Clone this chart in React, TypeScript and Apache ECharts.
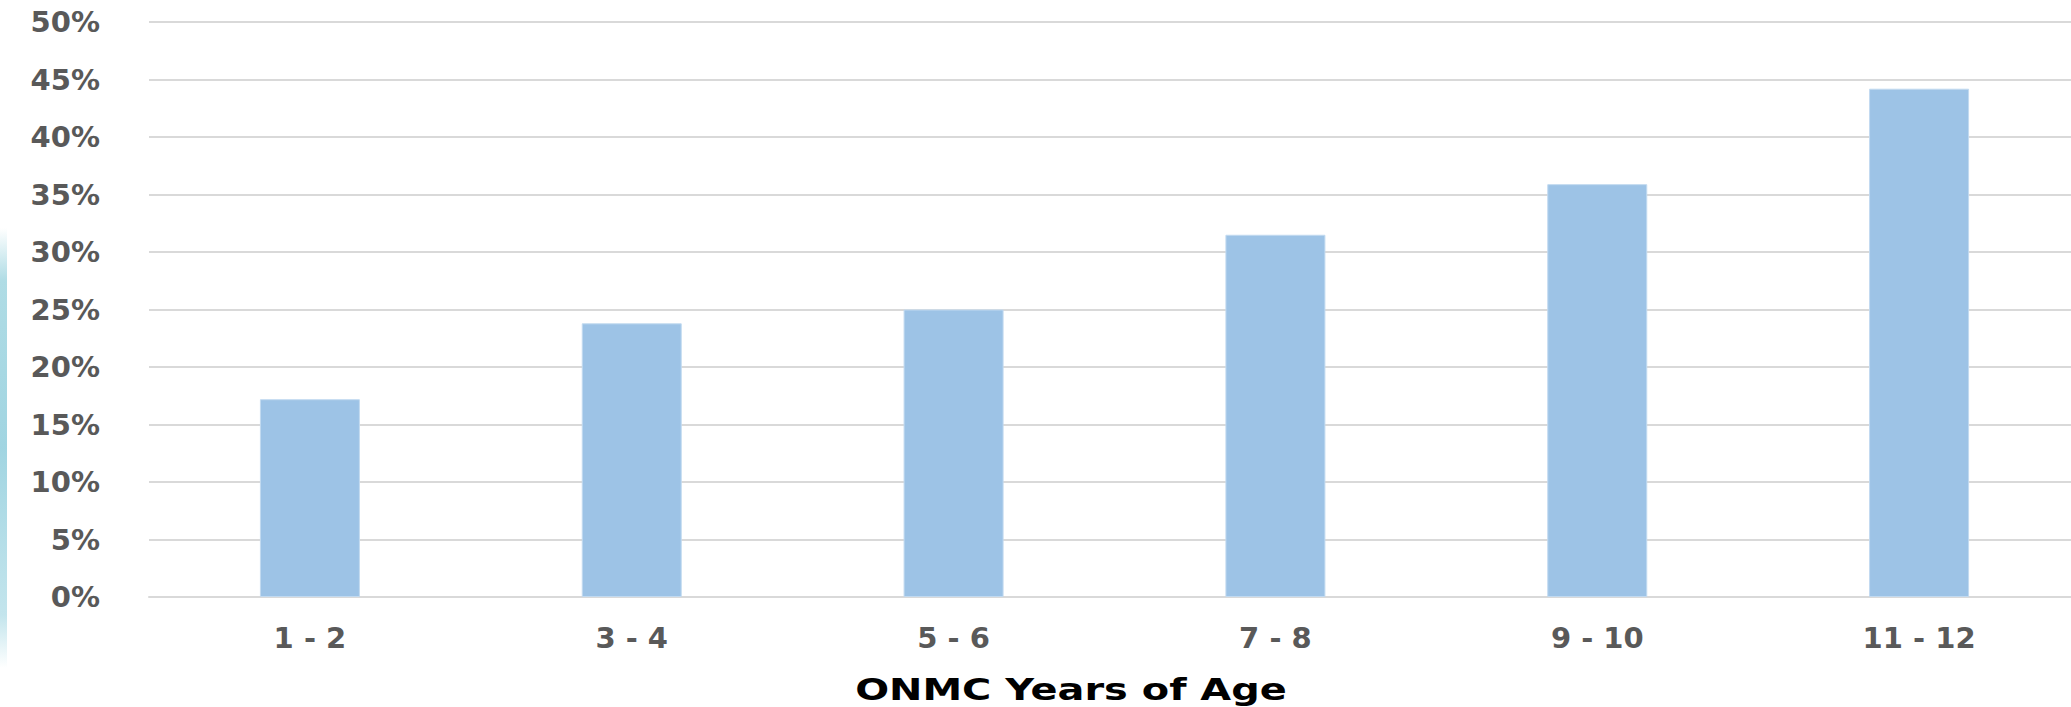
import React, { useEffect, useRef } from "react";
import * as echarts from "echarts";

const categories = ["1 - 2", "3 - 4", "5 - 6", "7 - 8", "9 - 10", "11 - 12"];
const values = [17.2, 23.8, 25.0, 31.5, 35.9, 44.2];
const axisTitle = "ONMC Years of Age";

export default function App() {
  const ref = useRef<HTMLDivElement>(null);
  useEffect(() => {
    if (!ref.current) return;
    const chart = echarts.init(ref.current, null, { renderer: "svg" });
    chart.setOption({
      animation: false,
      backgroundColor: "#ffffff",
      grid: { left: 149, right: 0, top: 22, bottom: 110, containLabel: false },
      xAxis: {
        type: "category",
        data: categories,
        axisLine: { show: true, lineStyle: { color: "#d9d9d9", width: 2 } },
        axisTick: { show: false },
        axisLabel: {
          margin: 26,
          color: "#595959",
          fontFamily: "DejaVu Sans",
          fontWeight: "bold",
          fontSize: 29,
        },
      },
      yAxis: {
        type: "value",
        min: 0,
        max: 50,
        interval: 5,
        axisLine: { show: false },
        axisTick: { show: false },
        splitLine: { lineStyle: { color: "#d9d9d9", width: 2 } },
        axisLabel: {
          margin: 49,
          color: "#595959",
          fontFamily: "DejaVu Sans",
          fontWeight: "bold",
          fontSize: 29,
          formatter: (v: number) => v + "%",
        },
      },
      series: [
        {
          type: "bar",
          data: values,
          barWidth: 100,
          itemStyle: { color: "#9dc3e6", borderColor: "#c2daf0", borderWidth: 1 },
        },
      ],
      graphic: [
        {
          type: "rect",
          shape: { x: 0, y: 228, width: 7, height: 440 },
          style: {
            fill: new echarts.graphic.LinearGradient(0, 0, 0, 1, [
              { offset: 0, color: "rgba(166,216,226,0)" },
              { offset: 0.12, color: "rgba(166,216,226,0.9)" },
              { offset: 0.5, color: "rgba(150,208,222,0.9)" },
              { offset: 0.88, color: "rgba(180,222,232,0.8)" },
              { offset: 1, color: "rgba(180,222,232,0)" },
            ]),
          },
        },
        {
          type: "text",
          x: 1071,
          y: 689,
          scaleX: 1.33,
          style: {
            text: axisTitle,
            fill: "#000000",
            font: "bold 30px 'DejaVu Sans'",
            textAlign: "center",
            textVerticalAlign: "middle",
          },
        },
      ],
    });
    return () => chart.dispose();
  }, []);
  return (
    <div
      ref={ref}
      style={{ position: "fixed", left: 0, top: 0, width: 2080, height: 707 }}
    />
  );
}
